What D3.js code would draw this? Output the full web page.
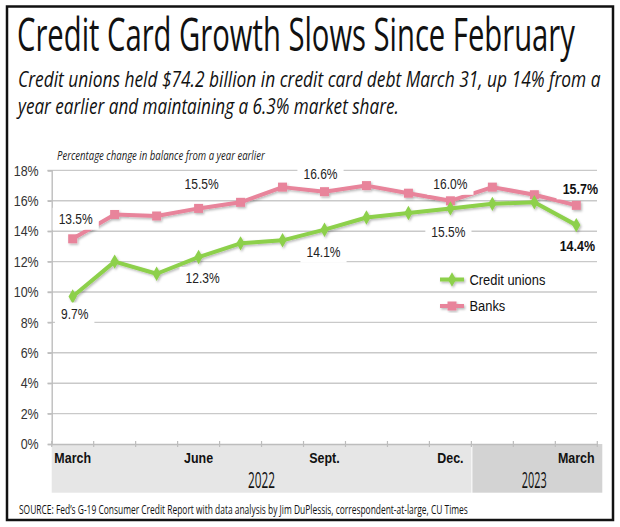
<!DOCTYPE html>
<html>
<head>
<meta charset="utf-8">
<script src="https://cdn.jsdelivr.net/npm/d3@7/dist/d3.min.js"></script>
<style>
html,body{margin:0;padding:0;background:#fff;}
svg{display:block;}
</style>
</head>
<body>
<svg id="chart" width="620" height="527"></svg>
<script>
// ---- data ----
const months = ["Mar 2022","Apr 2022","May 2022","Jun 2022","Jul 2022","Aug 2022","Sep 2022","Oct 2022","Nov 2022","Dec 2022","Jan 2023","Feb 2023","Mar 2023"];
const monthLabels = ["March","","","June","","","Sept.","","","Dec.","","","March"];
const creditUnions = [9.7,12.0,11.2,12.3,13.2,13.4,14.1,14.9,15.2,15.5,15.8,15.9,14.4];
const banks = [13.5,15.1,15.0,15.5,15.9,16.9,16.6,17.0,16.5,16.0,16.9,16.4,15.7];
const yTicks = [0,2,4,6,8,10,12,14,16,18];
const yearGroups = ["2022","2023"];
const yearOfMonth = ["2022","2022","2022","2022","2022","2022","2022","2022","2022","2022","2023","2023","2023"];
const seriesNames = ["Credit unions","Banks"];
const labeledIdx = [0,3,6,9,12];
const titleText = "Credit Card Growth Slows Since February";
const subtitleLines = ["Credit unions held $74.2 billion in credit card debt March 31, up 14% from a","year earlier and maintaining a 6.3% market share."];
const captionText = "Percentage change in balance from a year earlier";
const sourceText = "SOURCE: Fed\u2019s G-19 Consumer Credit Report with data analysis by Jim DuPlessis, correspondent-at-large, CU Times";

// ---- drawing ----
const svg = d3.select("#chart");
const green = "#8dd04b", pink = "#e8849b";
const condensed = "'Open Sans', 'Noto Sans', sans-serif";
const arial = "'Liberation Sans', Arial, sans-serif";

// horizontal scaling about the text's anchor point (real geometry, no textLength)
function scaleAbout(node, f){
  const el = d3.select(node);
  const x0 = +el.attr("x") || 0, y0 = +el.attr("y") || 0;
  el.attr("transform", `translate(${x0},${y0}) scale(${f},1) translate(${-x0},${-y0})`);
}
function fit(sel, w){ sel.each(function(){ scaleAbout(this, w/this.getComputedTextLength()); }); return sel; }
function squeeze(sel, f){ sel.each(function(){ scaleAbout(this, f); }); return sel; }

const defs = svg.append("defs");
const filt = defs.append("filter").attr("id","shadow").attr("x","-10%").attr("y","-10%").attr("width","120%").attr("height","130%");
filt.append("feDropShadow").attr("dx",1.2).attr("dy",1.5).attr("stdDeviation",0.8).attr("flood-color","#000").attr("flood-opacity",0.28);

// border
svg.append("rect").attr("x",7).attr("y",6.5).attr("width",606).attr("height",513.5)
  .attr("fill","none").attr("stroke","#111").attr("stroke-width",2.5);

// title
fit(svg.append("text").attr("x",17).attr("y",51).attr("font-family",condensed).attr("font-size",45)
  .attr("fill","#111").text(titleText), 558);
const subW = [583, 381];
subtitleLines.forEach((t,i)=>{
  fit(svg.append("text").attr("x",18).attr("y",87+i*27).attr("font-family",condensed)
    .attr("font-style","italic").attr("font-size",21).attr("fill","#111").text(t), subW[i]);
});

// scales
const x = d3.scaleBand().domain(months).range([51.7, 597.3]).padding(0);
const cx = d => x(d) + x.bandwidth()/2;
const y = d3.scaleLinear().domain([0,18]).range([444, 170.4]);

// year bands
yearGroups.forEach((yr,i)=>{
  const ms = months.filter((m,j)=>yearOfMonth[j]===yr);
  const x0 = x(ms[0]) + (i>0?1:0);
  const x1 = i===yearGroups.length-1 ? x(ms[ms.length-1])+x.bandwidth()+5 : x(ms[ms.length-1])+x.bandwidth();
  svg.append("rect").attr("x",x0).attr("y",444).attr("width",x1-x0).attr("height",48.7)
    .attr("fill", i===0 ? "#e6e6e6" : "#d3d3d3");
  const t = svg.append("text").attr("x",(x0+x1)/2 + (i===0?0:-3)).attr("y",488.5).attr("text-anchor","middle")
    .attr("font-family",condensed).attr("font-size",22).attr("fill","#111").text(yr);
  fit(t, i===0?27:25);
});

// gridlines
svg.append("g").selectAll("line").data(yTicks.filter(d=>d>0)).join("line")
  .attr("x1",47.5).attr("x2",597).attr("y1",d=>y(d)).attr("y2",d=>y(d))
  .attr("stroke","#c9c9c9").attr("stroke-width",1.4);

// y axis
const yAxis = svg.append("g").attr("transform","translate(51.7,0)")
  .call(d3.axisLeft(y).tickValues(yTicks).tickFormat(d=>d+"%").tickSize(4).tickPadding(9));
yAxis.select(".domain").attr("stroke","#bdbdbd").attr("stroke-width",1.4);
yAxis.selectAll(".tick line").attr("stroke","#bdbdbd").attr("stroke-width",1.4);
yAxis.selectAll(".tick text").attr("font-family",arial).attr("font-size",14.5).attr("fill","#333");
squeeze(yAxis.selectAll(".tick text"), 0.86);

// x axis
const xAxis = svg.append("g").attr("transform","translate(0,444)")
  .call(d3.axisBottom(x).tickValues([]).tickSizeOuter(0));
xAxis.select(".domain").attr("stroke","#bdbdbd").attr("stroke-width",1.4);
const edges = months.map(m=>x(m)).concat([x(months[months.length-1])+x.bandwidth()]);
svg.append("g").selectAll("line").data(edges).join("line")
  .attr("x1",d=>d).attr("x2",d=>d).attr("y1",441).attr("y2",447)
  .attr("stroke","#bdbdbd").attr("stroke-width",1.2);
const ml = svg.append("g").selectAll("text").data(months.filter((m,i)=>monthLabels[i])).join("text")
  .attr("x",m=>cx(m)).attr("y",463).attr("text-anchor","middle")
  .attr("font-family",arial).attr("font-weight","bold").attr("font-size",14.5).attr("fill","#111")
  .text(m=>monthLabels[months.indexOf(m)]);
squeeze(ml, 0.86);

// caption
fit(svg.append("text").attr("x",57).attr("y",160).attr("font-family",condensed).attr("font-style","italic")
  .attr("font-size",12.5).attr("fill","#222").text(captionText), 208);

// lines
const line = d3.line().x((d,i)=>cx(months[i])).y(d=>y(d));
const colors = [green, pink];
const lg = svg.append("g").attr("filter","url(#shadow)");
[banks, creditUnions].forEach(s=>{
  const c = s===banks ? pink : green;
  lg.append("path").datum(s).attr("d",line).attr("fill","none").attr("stroke",c)
    .attr("stroke-width",4).attr("stroke-linejoin","round");
});
// markers
lg.append("g").selectAll("rect").data(banks).join("rect")
  .attr("x",(d,i)=>cx(months[i])-4.5).attr("y",d=>y(d)-4.5).attr("width",9).attr("height",9).attr("fill",pink);
lg.append("g").selectAll("path").data(creditUnions).join("path")
  .attr("transform",(d,i)=>`translate(${cx(months[i])},${y(d)})`)
  .attr("d",d3.symbol().type(d3.symbolDiamond).size(60)).attr("fill",green);

// data labels
const offsets = {
  b: {0:[3,-20],3:[3,-24],6:[-4,-18],9:[0,-17],12:[4,-17]},
  c: {0:[2,17],3:[4,21],6:[-1,22],9:[-2,24],12:[1,21]}
};
const labG = svg.append("g");
function addLabel(val, i, off, bold){
  const g = labG.append("g").attr("transform",`translate(${cx(months[i])+off[0]},${y(val)+off[1]})`);
  const bg = g.append("rect").attr("fill","#fff");
  const t = g.append("text").attr("text-anchor","middle").attr("dy","0.36em")
    .attr("font-family",arial).attr("font-size",bold?14.5:14).attr("font-weight",bold?"bold":"normal")
    .attr("fill",bold?"#111":"#222").text(val.toFixed(1)+"%");
  const w = t.node().getComputedTextLength()*0.86 + 12;
  squeeze(t, 0.86);
  bg.attr("x",-w/2).attr("y",-11).attr("width",w).attr("height",22);
}
labeledIdx.forEach(i=>{
  addLabel(banks[i], i, offsets.b[i], i===12);
  addLabel(creditUnions[i], i, offsets.c[i], i===12);
});

// legend
const legY = [279.5, 306];
seriesNames.forEach((n,k)=>{
  const g = svg.append("g").attr("transform",`translate(440,${legY[k]})`);
  const gg = g.append("g").attr("filter","url(#shadow)");
  gg.append("line").attr("x1",0).attr("x2",24).attr("stroke",colors[k]).attr("stroke-width",4);
  if(k===0) gg.append("path").attr("transform","translate(12,0)").attr("d",d3.symbol().type(d3.symbolDiamond).size(60)).attr("fill",colors[k]);
  else gg.append("rect").attr("x",7.5).attr("y",-4.5).attr("width",9).attr("height",9).attr("fill",colors[k]);
  const t = g.append("text").attr("x",29.5).attr("dy","0.36em").attr("font-family",arial).attr("font-size",15)
    .attr("fill","#111").text(n);
  squeeze(t, 0.86);
});

// source
fit(svg.append("text").attr("x",19).attr("y",514).attr("font-family",condensed).attr("font-size",12.5)
  .attr("fill","#111").text(sourceText), 449);
</script>
</body>
</html>
